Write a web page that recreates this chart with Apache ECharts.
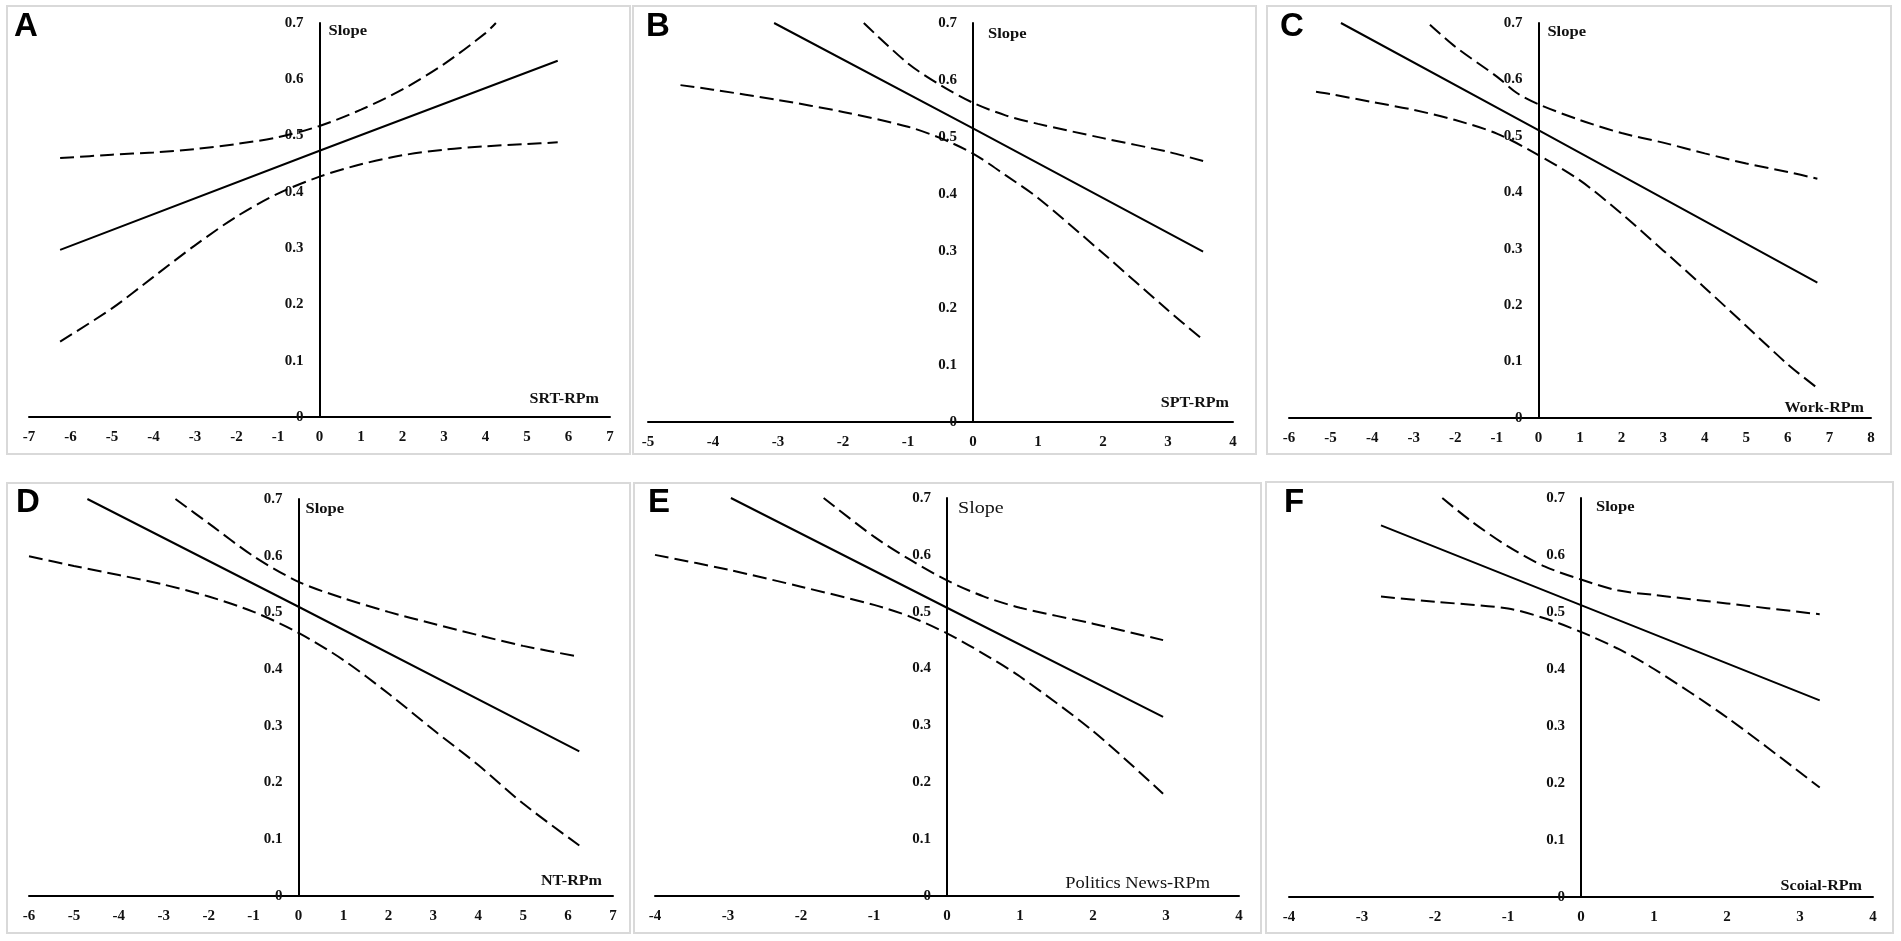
<!DOCTYPE html>
<html><head><meta charset="utf-8">
<script src="https://cdn.jsdelivr.net/npm/echarts@6/dist/echarts.min.js"></script>
<style>html,body{margin:0;padding:0;background:#fff}#c{width:1901px;height:941px}</style>
</head><body><div id="c"></div><script>
// ---- data ----
const ticksY = [0, 0.7, 0.1];
const solidA = [[-6.25,0.297],[0,0.473],[5.74,0.633]];
const upperA = [[-6.25,0.460],[-5,0.466],[-4,0.470],[-3,0.476],[-2,0.485],[-1,0.497],[0,0.517],[1,0.546],[2,0.582],[3,0.627],[4,0.682],[4.25,0.700]];
const lowerA = [[-6.25,0.134],[-5,0.193],[-4,0.249],[-3,0.305],[-2,0.356],[-1,0.397],[0,0.427],[1,0.449],[2,0.465],[3,0.475],[4,0.481],[5,0.485],[5.74,0.488]];

const solidB = [[-3.06,0.700],[0,0.515],[3.54,0.299]];
const upperB = [[-1.68,0.700],[-1,0.629],[-0.5,0.591],[0,0.560],[0.5,0.538],[1,0.523],[2,0.498],[3,0.474],[3.54,0.458]];
const lowerB = [[-4.5,0.591],[-4,0.583],[-3,0.565],[-2,0.544],[-1,0.518],[-0.5,0.498],[0,0.471],[0.5,0.433],[1,0.393],[2,0.296],[3,0.196],[3.5,0.148]];

const solidC = [[-4.75,0.700],[0,0.510],[6.71,0.240]];
const upperC = [[-2.61,0.697],[-2,0.658],[-1,0.605],[-0.5,0.575],[0,0.556],[1,0.528],[2,0.505],[3,0.488],[4,0.469],[5,0.451],[6,0.436],[6.71,0.424]];
const lowerC = [[-5.35,0.578],[-5,0.574],[-4,0.560],[-3,0.546],[-2,0.528],[-1,0.504],[0,0.466],[1,0.421],[2,0.362],[3,0.297],[4,0.231],[5,0.163],[6,0.095],[6.71,0.053]];

const solidD = [[-4.70,0.700],[0,0.510],[6.25,0.255]];
const upperD = [[-2.74,0.700],[-2,0.657],[-1,0.599],[0,0.554],[1,0.525],[2,0.501],[3,0.480],[4,0.460],[5,0.441],[6.25,0.422]];
const lowerD = [[-6,0.599],[-5,0.582],[-4,0.566],[-3,0.549],[-2,0.528],[-1,0.501],[0,0.464],[1,0.416],[2,0.357],[3,0.293],[4,0.231],[5,0.163],[6.25,0.089]];

const solidE = [[-2.96,0.700],[0,0.507],[2.96,0.315]];
const upperE = [[-1.69,0.700],[-1,0.632],[-0.5,0.591],[0,0.555],[0.5,0.527],[1,0.507],[2,0.479],[2.96,0.450]];
const lowerE = [[-4,0.600],[-3,0.574],[-2,0.544],[-1,0.512],[-0.5,0.491],[0,0.462],[0.5,0.426],[1,0.386],[2,0.290],[2.96,0.180]];

const solidF = [[-2.74,0.652],[0,0.512],[3.27,0.345]];
const upperF = [[-1.90,0.700],[-1.5,0.659],[-1,0.615],[-0.5,0.580],[0,0.557],[0.5,0.538],[1,0.530],[2,0.515],[3.27,0.496]];
const lowerF = [[-2.74,0.527],[-2,0.518],[-1,0.506],[-0.5,0.489],[0,0.465],[0.5,0.436],[1,0.400],[2,0.315],[3.27,0.192]];

const letters = ['A','B','C','D','E','F'];
const xNames = ['SRT-RPm','SPT-RPm','Work-RPm','NT-RPm','Politics News-RPm','Scoial-RPm'];
const xMins = [-7,-5,-6,-6,-4,-4];
const xMaxs = [7,4,8,7,4,4];
const solids = [solidA,solidB,solidC,solidD,solidE,solidF];
const uppers = [upperA,upperB,upperC,upperD,upperE,upperF];
const lowers = [lowerA,lowerB,lowerC,lowerD,lowerE,lowerF];

// ---- layout ----
const layout = [
 {grid:{left:29,right:1291,top:23,bottom:524}, box:[7,6,623,448], letter:[14,27], slope:[9,8,14,'bold'], name:[-11,-18,14,'bold']},
 {grid:{left:648,right:668,top:23,bottom:519}, box:[633,6,623,448], letter:[646,27], slope:[15,11,14,'bold'], name:[-4,-19,14,'bold']},
 {grid:{left:1289,right:30,top:23,bottom:523}, box:[1267,6,624,448], letter:[1280,27], slope:[9,9,14,'bold'], name:[-7,-10,14,'bold']},
 {grid:{left:29,right:1288,top:499,bottom:45}, box:[7,483,623,450], letter:[16,503], slope:[7,10,14,'bold'], name:[-11,-15,14,'bold']},
 {grid:{left:655,right:662,top:498,bottom:45}, box:[634,483,627,450], letter:[648,503], slope:[11,11,17,'normal'], name:[-29,-12,16,'normal']},
 {grid:{left:1289,right:28,top:498,bottom:44}, box:[1266,482,627,451], letter:[1284,503], slope:[15,9,14,'bold'], name:[-11,-11,14,'bold']}
];

const serif = '"Liberation Serif", "Times New Roman", serif';
const chart = echarts.init(document.getElementById('c'), null, {renderer:'canvas'});
const grids=[], xAxes=[], yAxes=[], series=[];
layout.forEach((L,i)=>{
  grids.push(Object.assign({containLabel:false, outerBoundsMode:'none'}, L.grid));
  xAxes.push({gridIndex:i, type:'value', min:xMins[i], max:xMaxs[i], interval:1,
    axisLine:{onZero:true, lineStyle:{color:'#000', width:2}}, axisTick:{show:false}, splitLine:{show:false},
    axisLabel:{color:'#111', fontFamily:serif, fontWeight:'bold', fontSize:15, margin:13}});
  yAxes.push({gridIndex:i, type:'value', min:ticksY[0], max:ticksY[1], interval:ticksY[2], offset:0,
    axisLine:{show:true, onZero:false, lineStyle:{color:'#000', width:2}}, axisTick:{show:false}, splitLine:{show:false},
    axisLabel:{color:'#111', fontFamily:serif, fontWeight:'bold', fontSize:15, margin:16}});
  const base = {type:'line', xAxisIndex:i, yAxisIndex:i, symbol:'none', showSymbol:false, silent:true, animation:false};
  series.push(Object.assign({}, base, {data:solids[i], lineStyle:{color:'#000', width:2}}));
  series.push(Object.assign({}, base, {data:uppers[i], smooth:0.3, lineStyle:{color:'#000', width:2, type:[14,6]}}));
  series.push(Object.assign({}, base, {data:lowers[i], smooth:0.3, lineStyle:{color:'#000', width:2, type:[14,6]}}));
});
chart.setOption({backgroundColor:'#fff', animation:false, grid:grids, xAxis:xAxes, yAxis:yAxes, series:series});

// move each y axis (line + labels) to x = 0 through an axis offset
const yUpd = layout.map((L,i)=>{
  const p0 = chart.convertToPixel({gridIndex:i}, [0, 0]);
  const pl = chart.convertToPixel({gridIndex:i}, [xMins[i], 0]);
  return {offset: -(p0[0] - pl[0])};
});
chart.setOption({yAxis:yUpd});

const g=[];
layout.forEach((L,i)=>{
  g.push({type:'rect', silent:true, z:-10, shape:{x:L.box[0], y:L.box[1], width:L.box[2], height:L.box[3]},
    style:{fill:'none', stroke:'#d9d9d9', lineWidth:2}});
  g.push({type:'text', silent:true, x:L.letter[0], y:L.letter[1],
    style:{text:letters[i], font:'bold 33px "Liberation Sans", Arial, sans-serif', fill:'#000',
      align:'left', verticalAlign:'middle', textAlign:'left', textVerticalAlign:'middle'}});
  const top = chart.convertToPixel({gridIndex:i}, [0, ticksY[1]]);
  g.push({type:'text', silent:true, x:top[0]+L.slope[0], y:top[1]+L.slope[1], scaleX:1.18,
    style:{text:'Slope', font:L.slope[3]+' '+L.slope[2]+'px '+serif, fill:'#111',
      align:'left', verticalAlign:'middle', textAlign:'left', textVerticalAlign:'middle'}});
  const end = chart.convertToPixel({gridIndex:i}, [xMaxs[i], 0]);
  g.push({type:'text', silent:true, x:end[0]+L.name[0], y:end[1]+L.name[1], scaleX:1.15,
    style:{text:xNames[i], font:L.name[3]+' '+L.name[2]+'px '+serif, fill:'#111',
      align:'right', verticalAlign:'middle', textAlign:'right', textVerticalAlign:'middle'}});
});
chart.setOption({graphic:g});
</script></body></html>
